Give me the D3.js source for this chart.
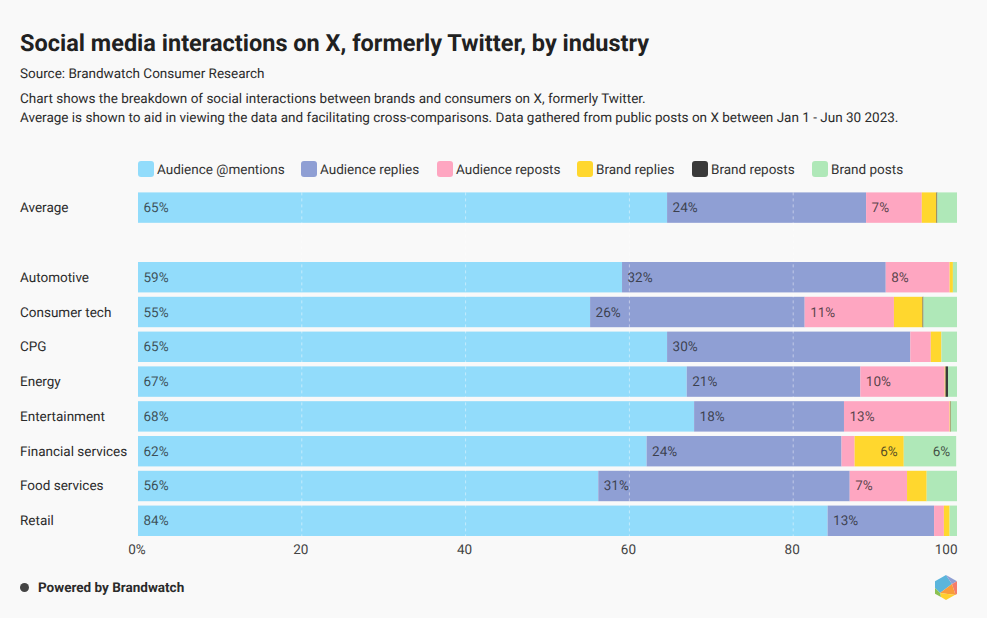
<!DOCTYPE html>
<html>
<head>
<meta charset="utf-8">
<script src="https://cdnjs.cloudflare.com/ajax/libs/d3/7.8.5/d3.min.js"></script>
<style>
  html, body { margin: 0; padding: 0; background: #f9f9f9; }
  text { font-family: Roboto, sans-serif; text-rendering: geometricPrecision; }
</style>
</head>
<body>
<div id="chart"></div>
<script>
const categories = ["Average", "", "Automotive", "Consumer tech", "CPG", "Energy", "Entertainment", "Financial services", "Food services", "Retail"];
const seriesNames = ["Audience @mentions", "Audience replies", "Audience reposts", "Brand replies", "Brand reposts", "Brand posts"];
const seriesColors = ["#92dcfb", "#8f9fd4", "#fea6c1", "#ffd72e", "#3a3a3a", "#afe8b8"];

const audienceMentions = [64.6, 0, 59.1, 55.2, 64.6, 67.0, 67.9, 62.1, 56.2, 84.2];
const audienceReplies = [24.3, 0, 32.2, 26.2, 29.7, 21.2, 18.3, 23.8, 30.7, 13.0];
const audienceReposts = [6.8, 0, 7.8, 10.9, 2.5, 10.3, 12.9, 1.6, 7.0, 1.2];
const brandReplies = [1.8, 0, 0.4, 3.5, 1.3, 0.1, 0.1, 6.0, 2.4, 0.7];
const brandReposts = [0.1, 0, 0, 0.1, 0, 0.3, 0.05, 0, 0, 0];
const brandPosts = [2.4, 0, 0.5, 4.1, 1.9, 1.1, 0.75, 6.4, 3.7, 0.9];
const seriesValues = [audienceMentions, audienceReplies, audienceReposts, brandReplies, brandReposts, brandPosts];

const xTicks = [0, 20, 40, 60, 80, 100];

const width = 987;
const height = 618;
const margin = { top: 192.4, right: 30, bottom: 82, left: 138 };

const svg = d3.select("#chart").append("svg")
    .attr("width", width)
    .attr("height", height)
    .style("display", "block");

svg.append("rect").attr("width", width).attr("height", height).attr("fill", "#f9f9f9");

// Header text
svg.append("text").attr("x", 20).attr("y", 51)
    .attr("font-size", 23.5).attr("font-weight", 700).attr("fill", "#212121")
    .text("Social media interactions on X, formerly Twitter, by industry");
svg.append("text").attr("x", 20).attr("y", 78)
    .attr("font-size", 13.5).attr("fill", "#2b2b2b")
    .text("Source: Brandwatch Consumer Research");
svg.append("text").attr("x", 20).attr("y", 103)
    .attr("font-size", 13.5).attr("fill", "#2b2b2b")
    .text("Chart shows the breakdown of social interactions between brands and consumers on X, formerly Twitter.");
svg.append("text").attr("x", 20).attr("y", 122)
    .attr("font-size", 13.5).attr("fill", "#2b2b2b")
    .text("Average is shown to aid in viewing the data and facilitating cross-comparisons. Data gathered from public posts on X between Jan 1 - Jun 30 2023.");

// Scales
const xScale = d3.scaleLinear().domain([0, 100]).range([margin.left, width - margin.right]);
const yScale = d3.scaleBand().domain(categories)
    .range([margin.top, height - margin.bottom]).paddingInner(0.126).paddingOuter(0);

// Legend
const legendX = [138, 301, 437, 577, 692, 812];
const legend = svg.append("g").selectAll("g").data(seriesNames).join("g")
    .attr("transform", (d, i) => `translate(${legendX[i]},161)`);
legend.append("rect")
    .attr("width", 16).attr("height", 16).attr("rx", 3)
    .attr("fill", (d, i) => seriesColors[i]);
legend.append("text")
    .attr("x", 19).attr("y", 12.5)
    .attr("font-size", 13.5).attr("fill", "#333")
    .text(d => d);

// Stack the series
const rows = categories.map((c, i) => {
    const row = { category: c };
    seriesNames.forEach((s, j) => { row[s] = seriesValues[j][i]; });
    return row;
});
const stacked = d3.stack().keys(seriesNames)(rows);

const bars = svg.append("g");
stacked.forEach((layer, j) => {
    bars.append("g").attr("fill", seriesColors[j])
        .selectAll("rect").data(layer.filter(d => d.data.category !== "")).join("rect")
        .attr("x", d => xScale(d[0]))
        .attr("y", d => yScale(d.data.category))
        .attr("width", d => xScale(d[1]) - xScale(d[0]))
        .attr("height", yScale.bandwidth());
});

// Dashed gridlines sit over the bars
svg.append("g").selectAll("line").data(xTicks.slice(1, -1)).join("line")
    .attr("x1", d => xScale(d)).attr("x2", d => xScale(d))
    .attr("y1", margin.top).attr("y2", height - margin.bottom)
    .attr("stroke", "#fff").attr("stroke-opacity", 0.45)
    .attr("stroke-dasharray", "3,3");

// Labels: only segments of about 6% and up, brand ones hug the right edge
const labels = svg.append("g");
stacked.forEach((layer, j) => {
    const alignRight = j >= 3;
    labels.append("g").selectAll("text")
        .data(layer.filter(d => d[1] - d[0] >= 5.9 && d.data.category !== "")).join("text")
        .attr("x", d => alignRight ? xScale(d[1]) - 6 : xScale(d[0]) + 5.5)
        .attr("y", d => yScale(d.data.category) + yScale.bandwidth() / 2 + 4.5)
        .attr("text-anchor", alignRight ? "end" : "start")
        .attr("font-size", 13.5).attr("fill", "#212121").attr("fill-opacity", 0.75)
        .text(d => `${Math.round(d[1] - d[0])}%`);
});

// Category labels
svg.append("g").selectAll("text").data(categories.filter(c => c !== "")).join("text")
    .attr("x", 20)
    .attr("y", d => yScale(d) + yScale.bandwidth() / 2 + 4.5)
    .attr("font-size", 13.5).attr("fill", "#2b2b2b")
    .text(d => d);

// X axis, labels sit a little left of the tick and the last one ends at the plot edge
const xAxis = d3.axisBottom(xScale).tickValues(xTicks).tickSize(0)
    .tickFormat(d => d === 0 ? "0%" : d);
const axisG = svg.append("g")
    .attr("transform", `translate(0,${height - margin.bottom})`)
    .call(xAxis);
axisG.select(".domain").remove();
axisG.selectAll("text")
    .attr("x", -1.5).attr("y", 8).attr("dy", "0.71em")
    .attr("font-size", 13.5).attr("font-family", "Roboto, sans-serif").attr("fill", "#444");
axisG.selectAll("text").filter(d => d === 100)
    .attr("x", 0).attr("text-anchor", "end");

// Footer
svg.append("circle").attr("cx", 24.5).attr("cy", 587.5).attr("r", 4.5).attr("fill", "#444");
svg.append("text").attr("x", 38).attr("y", 592)
    .attr("font-size", 13.5).attr("font-weight", 700).attr("fill", "#2b2b2b")
    .text("Powered by Brandwatch");

// Logo, hexagon cut into coloured wedges
const hex = d3.range(6).map(i => {
    const a = -Math.PI / 2 + i * Math.PI / 3;
    return [946 + 12.7 * Math.cos(a), 587.5 + 12.5 * Math.sin(a)];
});
const hexMid = [952, 584];
const hexLow = [940, 593];
const hexRight = [955.5, 595];
const hexLeft = [hex[4][0], 588];
const hexFoot = [941, 597];
const wedges = [
    { pts: [hex[5], hex[0], hexMid, hexLow, hexLeft], fill: "#5bb5dc" },
    { pts: [hex[0], hex[1], hexMid], fill: "#8f9fd4" },
    { pts: [hexMid, hex[1], hex[2], hexRight], fill: "#f47c6c" },
    { pts: [hexMid, hexRight, hexLow], fill: "#f99c3a" },
    { pts: [hexLow, hexRight, hex[2], hex[3], hexFoot], fill: "#ffd02e" },
    { pts: [hexLeft, hexLow, hexFoot, hex[4]], fill: "#8cc152" }
];
svg.append("g").selectAll("polygon").data(wedges).join("polygon")
    .attr("points", d => d.pts.join(" "))
    .attr("fill", d => d.fill);
</script>
</body>
</html>
